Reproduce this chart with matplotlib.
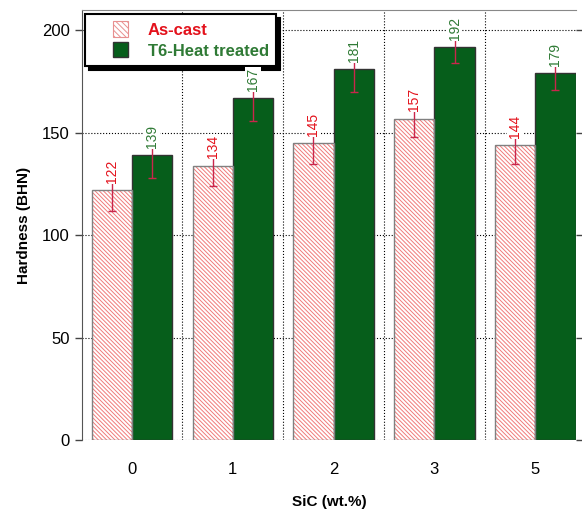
import numpy as np
import matplotlib
matplotlib.use("Agg")
import matplotlib.pyplot as plt
from matplotlib.patches import Rectangle
from matplotlib.legend_handler import HandlerPatch

plt.rcParams['font.family'] = ['Liberation Sans', 'DejaVu Sans']
plt.rcParams['hatch.linewidth'] = 0.7

# data
sic = ['0', '1', '2', '3', '5']
as_cast = [122, 134, 145, 157, 144]
as_cast_err = [10, 10, 10, 9, 9]
t6 = [139, 167, 181, 192, 179]
t6_err = [11, 11, 11, 8, 8]

red = '#e3111b'
green_bar = '#065e1b'
green_txt = '#2f7a35'
err_col = '#c9264c'
hatch_col = '#f07a7a'
hatch = '\\' * 8

fig = plt.figure(figsize=(5.82, 5.15), dpi=100)
ax = fig.add_axes([0.1404, 0.1456, 0.8493, 0.835])

x = np.arange(len(sic))
w = 0.4

ax.bar(x - w / 2, as_cast, w, color='white', edgecolor=hatch_col, hatch=hatch,
       linewidth=0, zorder=2)
ax.bar(x - w / 2, as_cast, w, color='none', edgecolor='#808080', linewidth=1.0, zorder=2.1)
ax.bar(x + w / 2, t6, w, color=green_bar, edgecolor='#333333', linewidth=1.0, zorder=2)

ax.errorbar(x - w / 2, as_cast, yerr=as_cast_err, fmt='none', ecolor=err_col,
            elinewidth=1, capsize=3, capthick=1, zorder=3)
ax.errorbar(x + w / 2, t6, yerr=t6_err, fmt='none', ecolor=err_col,
            elinewidth=1, capsize=3, capthick=1, zorder=3)

for xi, v in zip(x - w / 2, as_cast):
    ax.text(xi, v + 3.5, str(v), rotation=90, ha='center', va='bottom', fontsize=10,
            color=red, zorder=7,
            bbox=dict(facecolor='white', edgecolor='none', pad=0.6))
for xi, v in zip(x + w / 2, t6):
    ax.text(xi, v + 3.5, str(v), rotation=90, ha='center', va='bottom', fontsize=10,
            color=green_txt, zorder=7,
            bbox=dict(facecolor='white', edgecolor='none', pad=0.6))

ax.set_xlim(-0.5, 4.405)
ax.set_ylim(0, 210)
ax.set_yticks([0, 50, 100, 150, 200])
ax.set_xticks(x)
ax.set_xticklabels(sic)
ax.tick_params(axis='x', length=0, pad=16, labelsize=12)
ax.tick_params(axis='y', direction='out', length=5, width=1, color='#444444',
               labelsize=12, right=True)

# dotted grid: horizontal at the y ticks, vertical between groups
for yv in [0, 50, 100, 150, 200]:
    ax.axhline(yv, color='black', linestyle=':', linewidth=0.8, zorder=1)
for xv in [0.5, 1.5, 2.5, 3.5]:
    ax.axvline(xv, color='black', linestyle=':', linewidth=0.8, zorder=1)

ax.spines['bottom'].set_visible(False)
ax.spines['left'].set_color('#555555')
ax.spines['top'].set_color('#888888')
ax.spines['right'].set_visible(False)

ax.set_xlabel('SiC (wt.%)', fontsize=11, fontweight='bold', labelpad=13)
ax.set_ylabel('Hardness (BHN)', fontsize=11, fontweight='bold', labelpad=8)


def square_handle(legend, orig_handle, xdescent, ydescent, width, height, fontsize):
    s = height * 1.05
    return Rectangle((-xdescent + width - s, -ydescent + (height - s) / 2), s, s)


h1 = Rectangle((0, 0), 1, 1, facecolor='white', edgecolor='#e89090', hatch='\\' * 6,
               linewidth=0.8)
h2 = Rectangle((0, 0), 1, 1, facecolor=green_bar, edgecolor='#333333')
leg = ax.legend([h1, h2], ['As-cast', 'T6-Heat treated'], loc='upper left',
                bbox_to_anchor=(0.007, 0.99), borderaxespad=0, fancybox=False,
                shadow={'color': 'black', 'alpha': 1, 'ox': 3, 'oy': -3},
                framealpha=1, edgecolor='black', handlelength=2.1, handleheight=0.95,
                handletextpad=1.2, labelspacing=0.3, borderpad=0.45,
                prop={'size': 12, 'weight': 'bold'},
                handler_map={Rectangle: HandlerPatch(patch_func=square_handle)})
leg.get_frame().set_linewidth(1.5)
leg.set_zorder(5)
leg.get_texts()[0].set_color(red)
leg.get_texts()[1].set_color(green_txt)

fig.savefig('out.png', dpi=100)
